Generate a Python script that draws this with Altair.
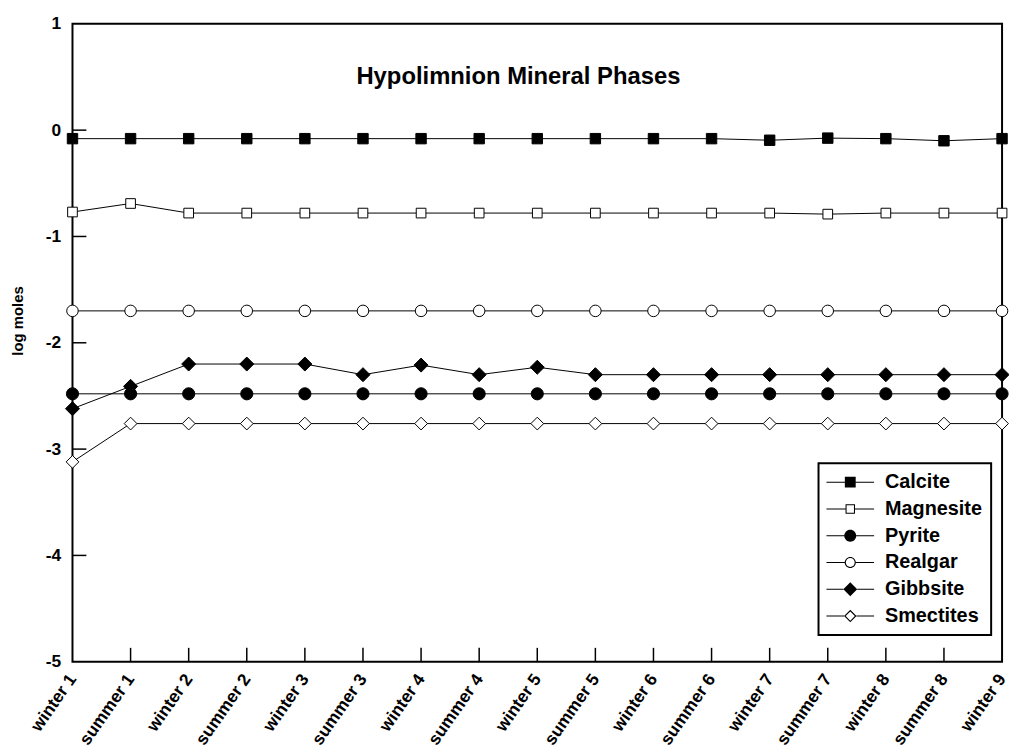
import altair as alt
import pandas as pd

FONT = "Liberation Sans"

categories = ["winter 1", "summer 1", "winter 2", "summer 2", "winter 3", "summer 3",
              "winter 4", "summer 4", "winter 5", "summer 5", "winter 6", "summer 6",
              "winter 7", "summer 7", "winter 8", "summer 8", "winter 9"]

series_names = ["Calcite", "Magnesite", "Pyrite", "Realgar", "Gibbsite", "Smectites"]

calcite = [-0.08, -0.08, -0.08, -0.08, -0.08, -0.08, -0.08, -0.08, -0.08, -0.08,
           -0.08, -0.08, -0.095, -0.075, -0.08, -0.10, -0.08]
magnesite = [-0.77, -0.69, -0.78, -0.78, -0.78, -0.78, -0.78, -0.78, -0.78, -0.78,
             -0.78, -0.78, -0.78, -0.79, -0.78, -0.78, -0.78]
pyrite = [-2.48] * 17
realgar = [-1.70] * 17
gibbsite = [-2.62, -2.41, -2.20, -2.20, -2.20, -2.30, -2.21, -2.30, -2.23, -2.30,
            -2.30, -2.30, -2.30, -2.30, -2.30, -2.30, -2.30]
smectites = [-3.12, -2.76, -2.76, -2.76, -2.76, -2.76, -2.76, -2.76, -2.76, -2.76,
             -2.76, -2.76, -2.76, -2.76, -2.76, -2.76, -2.76]

y_label_values = [1, 0, -1, -2, -3, -4, -5]
y_tick_values = [0, -1, -2, -3, -4]
x_tick_categories = categories[1:-1]

title_text = "Hypolimnion Mineral Phases"
y_title = "log moles"

shapes = ["square", "square", "circle", "circle", "diamond", "diamond"]
fills = ["black", "white", "black", "white", "black", "white"]
sizes = [110, 95, 150, 135, 200, 165]


# ---- legend glyphs: line + marker drawn as filled outlines (unit = 7px) ----
def _lines(r, L=3.43, t=0.075):
    return (f"M{-L},{-t}H{-r}V{t}H{-L}Z"
            f"M{r},{-t}H{L}V{t}H{r}Z")


def _square(a, b=None):
    p = f"M{-a},{-a}H{a}V{a}H{-a}Z"
    if b is not None:
        p += f"M{-b},{-b}V{b}H{b}V{-b}Z"
    return _lines(a) + p


def _circle(r, q=None):
    p = f"M{-r},0A{r},{r} 0 1,1 {r},0A{r},{r} 0 1,1 {-r},0Z"
    if q is not None:
        p += f"M{-q},0A{q},{q} 0 1,0 {q},0A{q},{q} 0 1,0 {-q},0Z"
    return _lines(r) + p


def _diamond(d, e=None):
    p = f"M{-d},0L0,{-d}L{d},0L0,{d}Z"
    if e is not None:
        p += f"M{-e},0L0,{e}L{e},0L0,{-e}Z"
    return _lines(d) + p


legend_paths = [
    _square(0.78),
    _square(0.68, 0.53),
    _circle(0.86),
    _circle(0.8, 0.64),
    _diamond(1.0),
    _diamond(0.9, 0.66),
]

W, H = 937, 643

rows = []
for name, vals in zip(series_names, [calcite, magnesite, pyrite, realgar, gibbsite, smectites]):
    for c, v in zip(categories, vals):
        rows.append({"period": c, "series": name, "value": v})
df = pd.DataFrame(rows)

x_axis = alt.Axis(title=None, labelAngle=-55, labelAlign="right", labelBaseline="middle",
                  ticks=False, domain=False, grid=False, labelFontSize=17.5,
                  labelFontWeight="bold", labelFont=FONT, labelColor="black",
                  labelPadding=14)
y_axis = alt.Axis(title=y_title, values=y_label_values, ticks=False, domain=False,
                  grid=False, labelFontSize=17.5, labelFontWeight="bold", labelFont=FONT,
                  labelColor="black", labelPadding=12, labelExpr="'' + datum.value",
                  titleFontSize=15, titleFontWeight="bold", titleFont=FONT,
                  titleColor="black", titlePadding=20, titleY=299)

x_scale = alt.Scale(type="point", padding=0, domain=categories)
y_scale = alt.Scale(domain=[-5, 1], nice=False, zero=False)

X = alt.X("period:N", sort=categories, scale=x_scale, axis=x_axis)
Y = alt.Y("value:Q", scale=y_scale, axis=y_axis)

base = alt.Chart(df)

lines = base.mark_line(color="black", strokeWidth=1).encode(
    x=X, y=Y, detail="series:N"
)

point_layers = []
for name, shp, fc, sz in zip(series_names, shapes, fills, sizes):
    point_layers.append(
        base.transform_filter(alt.datum.series == name).mark_point(
            shape=shp, filled=True, fill=fc, stroke="black", strokeWidth=1,
            opacity=1, size=sz
        ).encode(x=X, y=Y)
    )

leg = alt.Legend(title=None, orient="none", legendX=752, legendY=443, padding=9,
                 strokeColor="black", fillColor="white", symbolSize=196,
                 symbolOffset=13, labelOffset=25, labelFontSize=20,
                 labelFontWeight="bold", labelFont=FONT, labelColor="black",
                 rowPadding=7, symbolFillColor="black", symbolStrokeWidth=0,
                 symbolOpacity=1)

legend_layer = base.mark_point(filled=True, color="black", opacity=1).encode(
    x=X, y=Y,
    shape=alt.Shape("series:N", scale=alt.Scale(domain=series_names, range=legend_paths), legend=leg),
).transform_filter("datum.value > 100")

yticks = alt.Chart(pd.DataFrame({"value": y_tick_values})).mark_rule(
    color="black", strokeWidth=1.5).encode(
    y=Y, x=alt.value(0), x2=alt.value(14))

xticks = alt.Chart(pd.DataFrame({"period": x_tick_categories})).mark_rule(
    color="black", strokeWidth=1.5).encode(
    x=X, y=alt.value(H - 14), y2=alt.value(H))

title = alt.Chart(pd.DataFrame({"t": [title_text]})).mark_text(
    fontSize=24, fontWeight="bold", font=FONT, color="black").encode(
    x=alt.value(W / 2 - 19), y=alt.value(54), text="t:N")

chart = alt.layer(lines, *point_layers, legend_layer, yticks, xticks, title).properties(
    width=W, height=H,
    autosize=alt.AutoSizeParams(type="none"),
    padding={"left": 65, "top": 13, "right": 7, "bottom": 84}
).configure_view(
    stroke="black", strokeWidth=2
).configure_legend(strokeWidth=2)

chart.save("out.html", embed_options={"renderer": "svg", "actions": False})
